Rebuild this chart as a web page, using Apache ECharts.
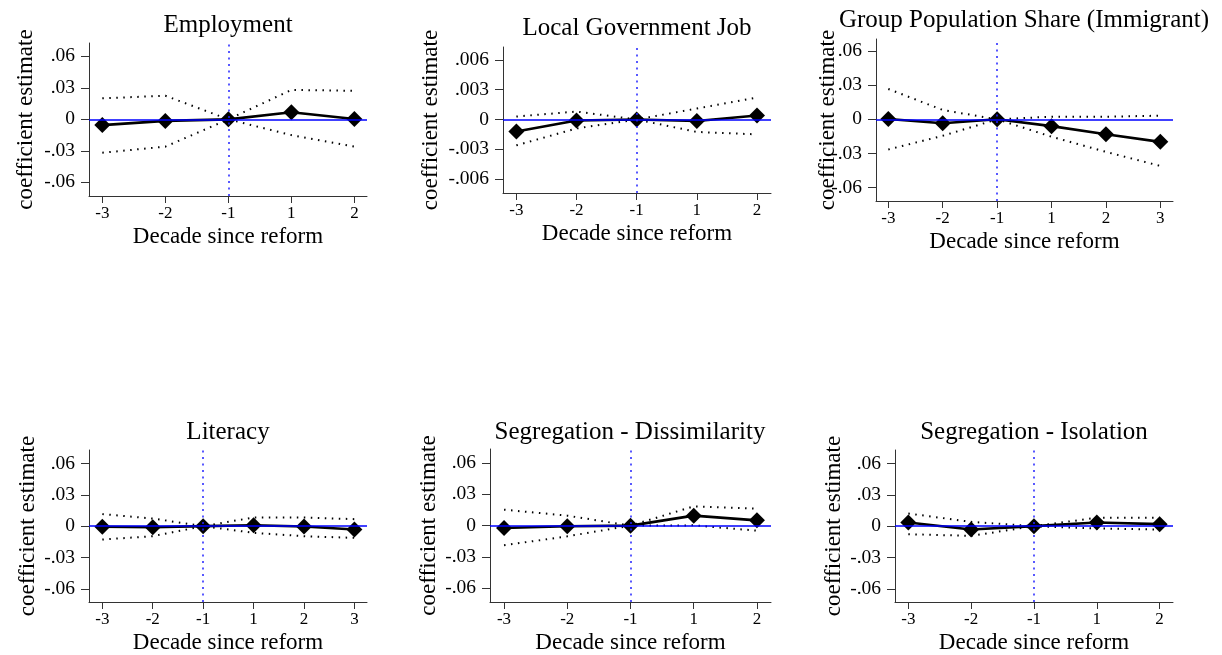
<!DOCTYPE html>
<html><head><meta charset="utf-8">
<script src="https://cdn.jsdelivr.net/npm/echarts@6/dist/echarts.min.js"></script>
<style>html,body{margin:0;padding:0;background:#fff}#c{width:1222px;height:655px}</style>
</head><body><div id="c"></div>
<script>
// ---------- data ----------
const catsFive = ['-3', '-2', '-1', '1', '2'];
const catsSix = ['-3', '-2', '-1', '1', '2', '3'];
const yTicksWide = [-0.06, -0.03, 0, 0.03, 0.06];
const yLabelsWide = ['-.06', '-.03', '0', '.03', '.06'];
const yTicksNarrow = [-0.006, -0.003, 0, 0.003, 0.006];
const yLabelsNarrow = ['-.006', '-.003', '0', '.003', '.006'];
const xTitle = 'Decade since reform';
const yTitle = 'coefficient estimate';

const empEst = [-0.0055, -0.0015, 0, 0.0068, 0.0003];
const empHi  = [0.0200, 0.0225, 0, 0.0280, 0.0272];
const empLo  = [-0.0318, -0.0260, 0, -0.0150, -0.0260];

const govEst = [-0.0012, -0.0001, 0, -0.00015, 0.0004];
const govHi  = [0.0003, 0.0008, 0, 0.0011, 0.0022];
const govLo  = [-0.0026, -0.0009, 0, -0.00125, -0.0015];

const popEst = [0.0003, -0.0035, 0, -0.0060, -0.0132, -0.0198];
const popHi  = [0.0267, 0.0082, 0, 0.0023, 0.0023, 0.0032];
const popLo  = [-0.0265, -0.0145, 0, -0.0153, -0.0286, -0.0410];

const litEst = [-0.0005, -0.0011, 0, 0.0009, -0.0003, -0.0032];
const litHi  = [0.0115, 0.0073, 0, 0.0083, 0.0083, 0.0067];
const litLo  = [-0.0128, -0.0096, 0, -0.0064, -0.0096, -0.0112];

const disEst = [-0.0022, -0.0006, 0, 0.0096, 0.0051];
const disHi  = [0.0153, 0.0096, 0, 0.0185, 0.0163];
const disLo  = [-0.0188, -0.0102, 0, 0.0003, -0.0048];

const isoEst = [0.0035, -0.0032, 0, 0.0035, 0.0019];
const isoHi  = [0.0121, 0.0041, 0, 0.0080, 0.0080];
const isoLo  = [-0.0077, -0.0093, 0, -0.0022, -0.0032];

const panels = [
  {title: 'Employment', cats: catsFive, est: empEst, hi: empHi, lo: empLo, ticks: yTicksWide, labels: yLabelsWide},
  {title: 'Local Government Job', cats: catsFive, est: govEst, hi: govHi, lo: govLo, ticks: yTicksNarrow, labels: yLabelsNarrow},
  {title: 'Group Population Share (Immigrant)', cats: catsSix, est: popEst, hi: popHi, lo: popLo, ticks: yTicksWide, labels: yLabelsWide},
  {title: 'Literacy', cats: catsSix, est: litEst, hi: litHi, lo: litLo, ticks: yTicksWide, labels: yLabelsWide},
  {title: 'Segregation - Dissimilarity', cats: catsFive, est: disEst, hi: disHi, lo: disLo, ticks: yTicksWide, labels: yLabelsWide},
  {title: 'Segregation - Isolation', cats: catsFive, est: isoEst, hi: isoHi, lo: isoLo, ticks: yTicksWide, labels: yLabelsWide}
];

// ---------- layout ----------
const layout = [
  {left: 89,  top: 43,  width: 278, height: 153, xmin: -0.211, xmax: 4.20,  ymin: -0.0730, ymax: 0.0727, tx: 228,  ty: 25,  yGap: 52},
  {left: 503, top: 47,  width: 268, height: 146, xmin: -0.222, xmax: 4.233, ymin: -0.0074, ymax: 0.0073, tx: 637,  ty: 28,  yGap: 61},
  {left: 876, top: 39,  width: 297, height: 162, xmin: -0.226, xmax: 5.233, ymin: -0.0718, ymax: 0.0706, tx: 1024, ty: 20,  yGap: 37},
  {left: 89,  top: 450, width: 278, height: 152, xmin: -0.264, xmax: 5.25,  ymin: -0.0725, ymax: 0.0728, tx: 228,  ty: 432, yGap: 50},
  {left: 490, top: 449, width: 281, height: 153, xmin: -0.222, xmax: 4.222, ymin: -0.0731, ymax: 0.0734, tx: 630,  ty: 432, yGap: 50},
  {left: 895, top: 450, width: 278, height: 152, xmin: -0.212, xmax: 4.213, ymin: -0.0725, ymax: 0.0728, tx: 1034, ty: 432, yGap: 50}
];

const FONT = '"Liberation Serif", "Times New Roman", serif';
const AX = '#333';

const grid = [], xAxis = [], yAxis = [], series = [], graphic = [];
panels.forEach((p, i) => {
  const l = layout[i];
  const idx = p.cats.map((c, k) => k);
  grid.push({left: l.left, top: l.top, width: l.width, height: l.height});
  xAxis.push({
    type: 'value', gridIndex: i, min: l.xmin, max: l.xmax,
    axisLine: {show: true, onZero: false, lineStyle: {color: AX, width: 1}},
    axisTick: {show: true, length: 7, customValues: idx, lineStyle: {color: AX}},
    axisLabel: {customValues: idx, formatter: v => p.cats[Math.round(v)], fontFamily: FONT, fontSize: 17, color: '#000', margin: 9},
    splitLine: {show: false},
    name: xTitle, nameLocation: 'middle', nameGap: 29, nameMoveOverlap: false,
    nameTextStyle: {fontFamily: FONT, fontSize: 23, color: '#000'}
  });
  yAxis.push({
    type: 'value', gridIndex: i, min: l.ymin, max: l.ymax,
    axisLine: {show: true, onZero: false, lineStyle: {color: AX, width: 1}},
    axisTick: {show: true, length: 8, customValues: p.ticks, lineStyle: {color: AX}},
    axisLabel: {customValues: p.ticks, formatter: v => {
      let k = p.ticks.findIndex(t => Math.abs(t - v) < 1e-9);
      return k >= 0 ? p.labels[k] : '';
    }, fontFamily: FONT, fontSize: 19.5, color: '#000', margin: 14},
    splitLine: {show: false},
    name: yTitle, nameLocation: 'middle', nameGap: l.yGap, nameRotate: 90, nameMoveOverlap: false,
    nameTextStyle: {fontFamily: FONT, fontSize: 23, color: '#000'}
  });
  const pts = arr => arr.map((v, k) => [k, v]);
  series.push({
    type: 'line', xAxisIndex: i, yAxisIndex: i, data: pts(p.est), z: 1,
    showSymbol: false, symbol: 'none', lineStyle: {width: 0, opacity: 0}, silent: true,
    markLine: {silent: true, symbol: ['none', 'none'], label: {show: false}, animation: false,
      data: [
        {yAxis: 0, lineStyle: {color: '#0000ff', width: 1.6, type: 'solid'}},
        {xAxis: 2, lineStyle: {color: '#2222ff', width: 1.5, type: [2, 4.5]}}
      ]}
  });
  [p.hi, p.lo].forEach(arr => series.push({
    type: 'line', xAxisIndex: i, yAxisIndex: i, data: pts(arr), z: 2,
    symbol: 'none', lineStyle: {color: '#000', width: 2, type: [1.5, 5.5]}
  }));
  series.push({
    type: 'line', xAxisIndex: i, yAxisIndex: i, data: pts(p.est), z: 3,
    symbol: 'diamond', symbolSize: 16, itemStyle: {color: '#000'},
    lineStyle: {color: '#000', width: 2.6}
  });
  graphic.push({type: 'text', x: l.tx, y: l.ty, z: 10,
    style: {text: p.title, font: '25px ' + FONT, fill: '#000',
      textAlign: 'center', textVerticalAlign: 'middle', align: 'center', verticalAlign: 'middle'}});
});

const chart = echarts.init(document.getElementById('c'), null, {renderer: 'canvas'});
chart.setOption({animation: false, backgroundColor: '#fff', grid, xAxis, yAxis, series, graphic});
</script></body></html>
